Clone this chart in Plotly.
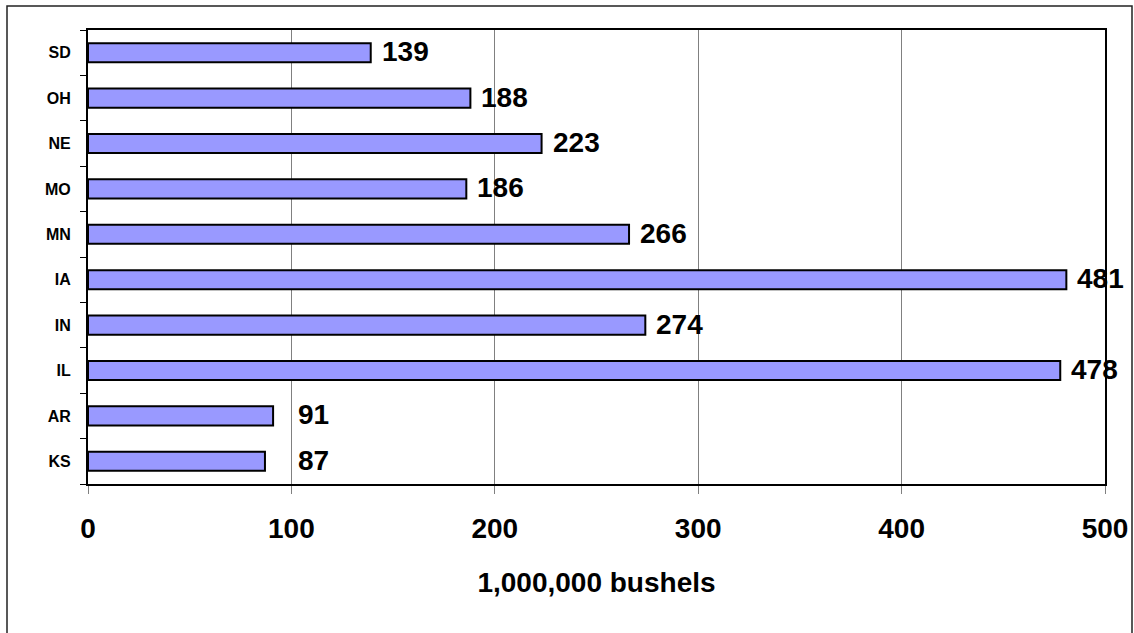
import plotly.graph_objects as go

# Data (bottom to top)
states = ["KS", "AR", "IL", "IN", "IA", "MN", "MO", "NE", "OH", "SD"]
bushels = [87, 91, 478, 274, 481, 266, 186, 223, 188, 139]
x_ticks = [0, 100, 200, 300, 400, 500]
x_title = "1,000,000 bushels"

FONT = "Arial, Liberation Sans, sans-serif"
LABEL_MIN_X = 98  # labels of short bars sit at a common position

fig = go.Figure()
fig.add_trace(go.Bar(
    y=states, x=bushels, orientation="h",
    marker=dict(color="#9999FF", line=dict(color="#000000", width=2)),
    hoverinfo="x+y",
))

for s, v in zip(states, bushels):
    fig.add_annotation(
        x=max(v, LABEL_MIN_X), y=s, xref="x", yref="y",
        text=str(v), showarrow=False, xanchor="left", yanchor="middle",
        xshift=9, yshift=1,
        font=dict(family=FONT, size=28, color="#000000", weight="bold"),
    )

W, H = 1134, 633
L, R, T, B = 88, 29, 30, 149
pw, ph = W - L - R, H - T - B
# outer chart border
fig.add_shape(
    type="rect", xref="paper", yref="paper",
    x0=(7 - L) / pw, x1=(1132 - L) / pw,
    y0=(H - B - 650) / ph, y1=(H - B - 6) / ph,
    line=dict(color="#222222", width=1.5), fillcolor="rgba(0,0,0,0)",
    layer="below",
)

fig.update_layout(
    width=W, height=H,
    margin=dict(l=L, r=R, t=T, b=B, autoexpand=False),
    plot_bgcolor="#FFFFFF", paper_bgcolor="#FFFFFF",
    bargap=0.58, showlegend=False,
    font=dict(family=FONT, color="#000000"),
    xaxis=dict(
        range=[0, 500], tickvals=x_ticks, ticktext=[str(t) for t in x_ticks],
        showgrid=True, gridcolor="#808080", gridwidth=1,
        showline=True, linecolor="#000000", linewidth=2, mirror=True,
        ticks="outside", ticklen=8, tickcolor="#808080", tickwidth=1,
        ticklabelstandoff=10, automargin=False,
        tickfont=dict(family=FONT, size=28, weight="bold"),
        title=dict(text=x_title, standoff=30,
                   font=dict(family=FONT, size=28, weight="bold")),
        zeroline=False, fixedrange=True,
    ),
    yaxis=dict(
        type="category", showgrid=False, automargin=False,
        showline=True, linecolor="#000000", linewidth=2, mirror=True,
        ticks="outside", ticklen=6, tickcolor="#000000", tickwidth=1,
        tickson="boundaries", ticklabelstandoff=12,
        tickfont=dict(family=FONT, size=16, weight="bold"),
        fixedrange=True,
    ),
)

fig.write_html("out.html")
